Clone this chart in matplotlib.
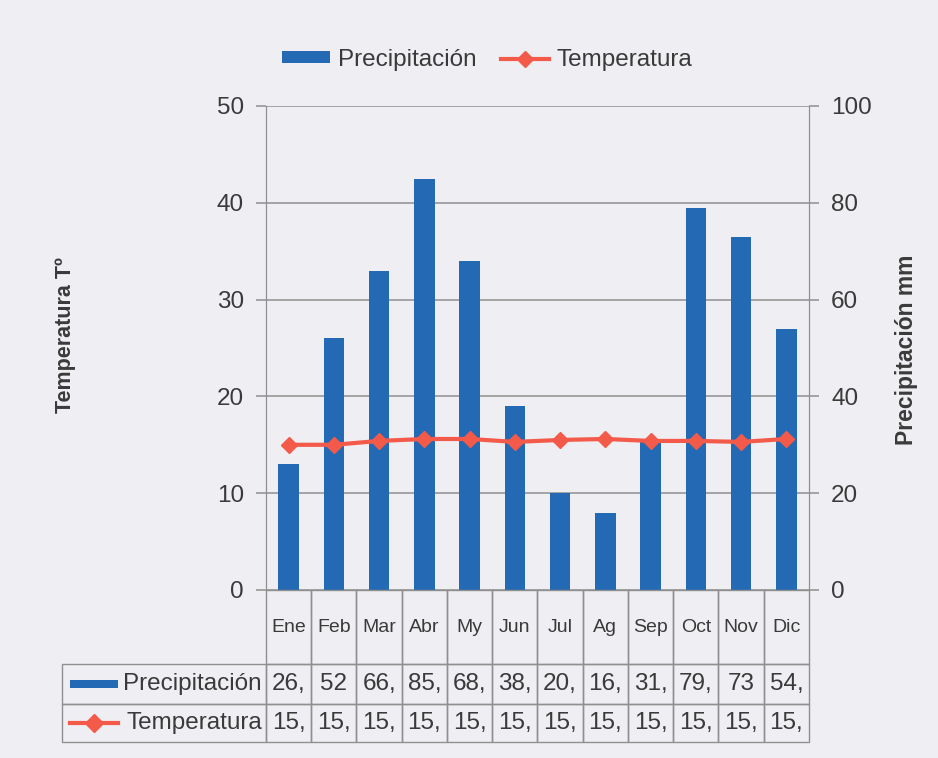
import matplotlib
matplotlib.use('Agg')
import matplotlib.pyplot as plt
from matplotlib.lines import Line2D
from matplotlib.patches import Rectangle
from matplotlib.table import Table

plt.rcParams['font.family'] = ['Liberation Sans', 'DejaVu Sans']

# Datos del climograma
meses = ['Ene', 'Feb', 'Mar', 'Abr', 'My', 'Jun', 'Jul', 'Ag', 'Sep', 'Oct', 'Nov', 'Dic']
precipitacion = [26, 52, 66, 85, 68, 38, 20, 16, 31, 79, 73, 54]
temperatura = [15.0, 15.0, 15.4, 15.6, 15.6, 15.3, 15.5, 15.6, 15.4, 15.4, 15.3, 15.6]
texto_precip = ['26,', '52', '66,', '85,', '68,', '38,', '20,', '16,', '31,', '79,', '73', '54,']
texto_temp = ['15,'] * 12

azul = '#2469b3'
rojo = '#f45a4a'
gris = '#8f8f8f'
texto = '#3a3a3a'
fondo = '#efeef2'

fig = plt.figure(figsize=(9.38, 7.58), dpi=100, facecolor=fondo)
ax2 = fig.add_axes([266 / 938, 1 - 590 / 758, 543 / 938, 484 / 758])
ax = ax2.twinx()
ax.yaxis.tick_left()
ax2.yaxis.tick_right()
ax.set_zorder(ax2.get_zorder() + 1)
ax.patch.set_visible(False)
ax2.set_facecolor('none')

x = list(range(len(meses)))

# Barras de precipitacion (eje derecho)
ax2.bar(x, precipitacion, width=0.45, color=azul, zorder=3)
ax2.set_ylim(0, 100)
ax2.set_yticks(range(0, 101, 20))
ax2.grid(axis='y', color=gris, linewidth=1.1, zorder=0)
ax2.set_axisbelow(True)

# Linea de temperatura (eje izquierdo)
ax.plot(x, temperatura, color=rojo, linewidth=3, marker='D', markersize=8,
        markeredgecolor=rojo, zorder=5)
ax.set_ylim(0, 50)
ax.set_yticks(range(0, 51, 10))

for a in (ax, ax2):
    a.set_xlim(-0.5, 11.5)
    a.set_xticks([])
    a.tick_params(axis='y', labelsize=17.5, colors=gris, labelcolor=texto,
                  length=7, width=1.1, pad=9)
    for s in ('top', 'bottom'):
        a.spines[s].set_visible(False)
    a.spines['left'].set_color(gris)
    a.spines['right'].set_color(gris)

# Etiquetas de ejes
fig.text(65 / 938, 1 - 335 / 758, 'Temperatura Tº', rotation=90, ha='center',
         va='center', fontsize=15.5, fontweight='bold', color=texto)
fig.text(906 / 938, 1 - 350 / 758, 'Precipitación mm', rotation=90, ha='center',
         va='center', fontsize=16.5, fontweight='bold', color=texto)

# Leyenda superior
h_barra = Rectangle((0, 0), 1, 0.5, facecolor=azul, edgecolor='none')
h_linea = Line2D([], [], color=rojo, linewidth=3, marker='D', markersize=8)
fig.legend([h_barra, h_linea], ['Precipitación', 'Temperatura'], loc='center',
           bbox_to_anchor=(487 / 938, 1 - 60 / 758), ncol=2, frameon=False,
           fontsize=17.5, handlelength=2.0, handleheight=0.4, columnspacing=1.0,
           handletextpad=0.3, labelcolor=texto)

# Tabla de datos bajo el grafico
ancho_lbl = 204 / 543
ancho_col = 1 / 12
alturas = [74 / 484, 40 / 484, 38 / 484]
tabla = Table(ax, bbox=[-ancho_lbl, -sum(alturas), 1 + ancho_lbl, sum(alturas)])
filas = [[''] + meses, ['Precipitación'] + texto_precip, ['Temperatura'] + texto_temp]
for r, fila in enumerate(filas):
    for c, t in enumerate(fila):
        w = ancho_lbl if c == 0 else ancho_col
        cell = tabla.add_cell(r, c, w, alturas[r], text=t,
                              loc='right' if c == 0 else 'center',
                              facecolor='none', edgecolor=gris)
        cell.set_linewidth(1.0)
        cell.get_text().set_color(texto)
        cell.get_text().set_fontsize(14 if r == 0 else 17.5)
        if c == 0:
            cell.PAD = 0.02
        else:
            cell.PAD = 0.0
        if r == 0 and c == 0:
            cell.visible_edges = 'open'
tabla.auto_set_font_size(False)
ax.add_table(tabla)

# Simbolos de leyenda dentro de la tabla
y_prec = -(alturas[0] + alturas[1] / 2)
y_temp = -(alturas[0] + alturas[1] + alturas[2] / 2)
ax.add_patch(Rectangle((-196 / 543, y_prec - 0.009), 48 / 543, 0.018,
                       transform=ax.transAxes, facecolor=azul, edgecolor='none',
                       clip_on=False))
ax.add_line(Line2D([-196 / 543, -148 / 543], [y_temp, y_temp], transform=ax.transAxes,
                   color=rojo, linewidth=3, clip_on=False))
ax.add_line(Line2D([-172 / 543], [y_temp], transform=ax.transAxes, color=rojo,
                   marker='D', markersize=9, clip_on=False))

fig.savefig('out.png', dpi=100, facecolor=fondo)
